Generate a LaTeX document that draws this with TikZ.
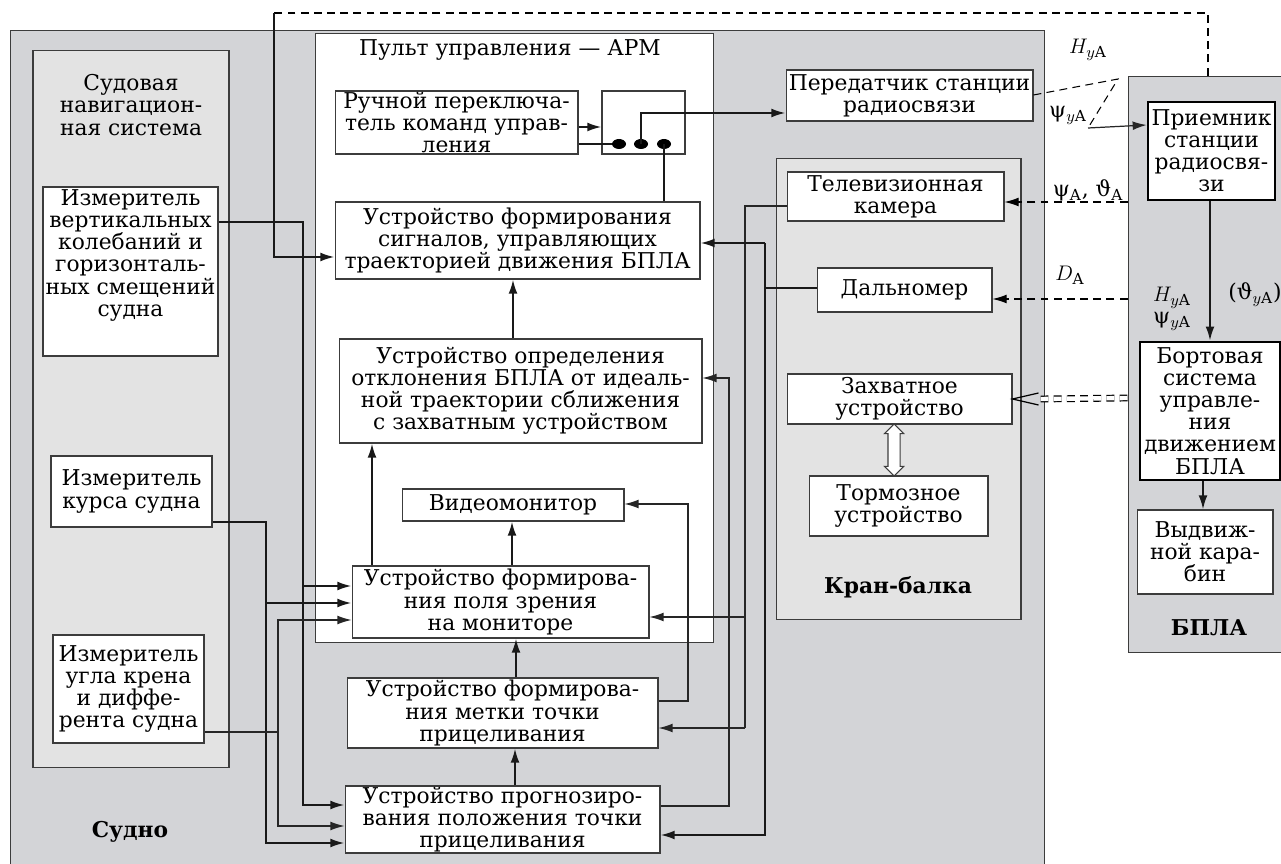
\documentclass[tikz,border=0pt]{standalone}
\usepackage{fontspec}
\setmainfont{DejaVu Serif}
\usetikzlibrary{arrows.meta,shapes.geometric,shapes.arrows}

\definecolor{shipgray}{RGB}{211,212,215}
\definecolor{panelgray}{RGB}{227,227,227}
\definecolor{edgegray}{RGB}{60,60,60}
\newcommand\bxfont{\fontsize{12.4}{12.6}\selectfont}

\tikzset{
  blk/.style={draw=edgegray, line width=0.6pt, fill=white, align=center, inner sep=0pt, font=\bxfont},
  thickblk/.style={blk, draw=black, line width=1.5pt},
  area/.style={draw=edgegray, line width=0.6pt, inner sep=0pt},
  lbl/.style={align=center, inner sep=0pt, font=\bxfont},
  ln/.style={line width=1.1pt, draw=black!90},
  lnt/.style={line width=0.7pt, draw=black!85},
  arr/.style={ln, -{Latex[length=8pt,width=5pt]}},
  arrt/.style={lnt, -{Latex[length=8pt,width=5pt]}},
  dashln/.style={line width=0.6pt, dash pattern=on 4.5pt off 3pt},
  dot/.style={ellipse, fill=black, inner sep=0pt, minimum width=0.28cm, minimum height=0.2cm}
}

\begin{document}
\begin{tikzpicture}[x=0.02cm, y=-0.02cm]
\useasboundingbox (0,0) rectangle (1281,864);

% areas
\node[area, fill=shipgray, minimum width=20.7cm, minimum height=16.8cm] (sudno) at (527.5,450) {};
\node[area, fill=panelgray, minimum width=3.92cm, minimum height=14.36cm] (nav) at (131,409) {};
\node[area, fill=white, minimum width=7.98cm, minimum height=12.2cm] (arm) at (514.5,338) {};
\node[area, fill=panelgray, minimum width=4.9cm, minimum height=9.24cm] (kran) at (898.5,389) {};
\node[area, fill=shipgray, minimum width=3.24cm, minimum height=11.54cm] (bpla) at (1209,364.5) {};

% titles
\node[lbl] (navtitle) at (131,105) {Судовая\\навигацион-\\ная система};
\node[lbl] (armtitle) at (510,50) {Пульт управления — АРМ};
\node[lbl, font=\bxfont\bfseries] (sudnotitle) at (130,832) {Судно};
\node[lbl, font=\bxfont\bfseries] (krantitle) at (898,587) {Кран-балка};
\node[lbl, font=\bxfont\bfseries] (bplatitle) at (1209,628) {БПЛА};

% ship sensors
\node[blk, minimum width=3.5cm, minimum height=3.38cm] (vert) at (130.5,271.5) {Измеритель\\вертикальных\\колебаний и\\горизонталь-\\ных смещений\\судна\\[0.3cm]};
\node[blk, minimum width=3.22cm, minimum height=1.42cm] (kurs) at (131.5,491.5) {Измеритель\\курса судна};
\node[blk, minimum width=3.02cm, minimum height=2.16cm] (kren) at (128.5,689) {Измеритель\\угла крена\\и диффе-\\рента судна};

% control desk
\node[blk, minimum width=4.86cm, minimum height=1.26cm] (ruchn) at (456.5,122.5) {Ручной переключа-\\тель команд управ-\\ления};
\node[blk, minimum width=1.66cm, minimum height=1.26cm] (sw) at (643.5,122.5) {};
\node[dot] (d1) at (619,144) {};
\node[dot] (d2) at (641,144) {};
\node[dot] (d3) at (664,144) {};
\node[blk, minimum width=7.3cm, minimum height=1.54cm] (signal) at (517.5,240.5) {Устройство формирования\\сигналов, управляющих\\траекторией движения БПЛА};
\node[blk, minimum width=7.26cm, minimum height=2.08cm] (otkl) at (520.5,391) {Устройство определения\\отклонения БПЛА от идеаль-\\ной траектории сближения\\с захватным устройством};
\node[blk, minimum width=4.44cm, minimum height=0.64cm] (video) at (513,505) {Видеомонитор};
\node[blk, minimum width=5.94cm, minimum height=1.44cm] (pole) at (500.5,602) {Устройство формирова-\\ния поля зрения\\на мониторе};
\node[blk, minimum width=6.22cm, minimum height=1.4cm] (metka) at (502.5,713) {Устройство формирова-\\ния метки точки\\прицеливания};
\node[blk, minimum width=6.3cm, minimum height=1.34cm] (prog) at (502.5,819.5) {Устройство прогнозиро-\\вания положения точки\\прицеливания};

% crane beam
\node[blk, minimum width=4.94cm, minimum height=1.02cm] (pered) at (909.5,95.5) {Передатчик станции\\радиосвязи};
\node[blk, minimum width=4.34cm, minimum height=0.98cm] (tv) at (895.5,196.5) {Телевизионная\\камера};
\node[blk, minimum width=3.5cm, minimum height=0.88cm] (dal) at (904.5,290) {Дальномер};
\node[blk, minimum width=4.5cm, minimum height=1cm] (zahv) at (899.5,399) {Захватное\\устройство};
\node[blk, minimum width=3.58cm, minimum height=1.2cm] (torm) at (898.5,506) {Тормозное\\устройство};
\node[double arrow, draw=edgegray, line width=0.6pt, fill=white, rotate=90, inner xsep=0pt, inner ysep=0.11cm,
  minimum height=1.04cm, double arrow head extend=0.07cm] (hold) at (894,450) {};

% UAV
\node[thickblk, minimum width=2.54cm, minimum height=1.96cm] (priem) at (1211.5,151) {Приемник\\станции\\радиосвя-\\зи};
\node[thickblk, minimum width=2.8cm, minimum height=2.76cm] (bort) at (1210,411) {Бортовая\\система\\управле-\\ния\\движением\\БПЛА};
\node[blk, minimum width=2.72cm, minimum height=1.68cm] (karab) at (1205,552) {Выдвиж-\\ной кара-\\бин};

% bus points
\coordinate (fbR) at (1208,13);
\coordinate (fbL) at (274,13);
\coordinate (busV) at (303,222);
\coordinate (busK) at (266,522);
\coordinate (busR) at (278,732);
\coordinate (busO) at (729,806);
\coordinate (busT) at (745,206);
\coordinate (busD) at (765,288);
\coordinate (busM) at (688,701);
\coordinate (rA) at (1118,79);
\coordinate (rB) at (1088,128);

% feedback from the UAV
\draw[dashln] (bpla.north -| fbR) -- (fbR) -- (fbL);
\draw[arr] (fbL) |- (signal.west |- 0,257);

% ship sensors to the desk
\draw[arr] (vert.east |- busV) -- (busV) |- (prog.west |- 0,805);
\draw[arr] (busV |- 0,586) -- (pole.west |- 0,586);
\draw[arr] (kurs.east |- busK) -- (busK) |- (prog.west |- 0,843);
\draw[arr] (busK |- 0,603) -- (pole.west |- 0,603);
\draw[lnt] (kren.east |- busR) -- (busR);
\draw[arrt] (busR) |- (pole.west |- 0,620);
\draw[arrt] (busR) |- (prog.west |- 0,826);

% switch
\draw[arr] (ruchn.east |- 0,127) -- (sw.west |- 0,127);
\draw[ln] (ruchn.east |- d1) -- (d1);
\draw[arr] (d2.center) |- (pered.west |- 0,113);
\draw[ln] (d3.center) -- (d3 |- signal.north);

% inside the desk
\draw[arr] (otkl.north -| 513,0) -- (signal.south -| 513,0);
\draw[arr] (pole.north -| 372,0) -- (otkl.south -| 372,0);
\draw[arr] (pole.north -| 512,0) -- (video.south -| 512,0);
\draw[arr] (metka.north -| 516,0) -- (pole.south -| 516,0);
\draw[arr] (prog.north -| 515,0) -- (metka.south -| 515,0);

% right-hand buses
\draw[arrt] (prog.east |- busO) -- (busO) |- (otkl.east |- 0,378);
\draw[lnt] (tv.west |- busT) -- (busT) -- (busT |- 0,728);
\draw[arrt] (busT |- 0,617) -- (pole.east |- 0,617);
\draw[arrt] (busT |- 0,728) -- (metka.east |- 0,728);
\draw[ln] (dal.west |- busD) -- (busD);
\draw[arr] (busD |- 0,243) -- (busD |- 0,835) -- (prog.east |- 0,835);
\draw[arr] (busD |- 0,243) -- (signal.east |- 0,243);
\draw[arrt] (metka.east |- busM) -- (busM) |- (video.east |- 0,504);

% radio link
\draw[dashln] (pered.east |- 0,95) -- (rA) -- (rB);
\draw[arrt] (rB) -- (priem.west |- 0,125);
\draw[dashln, -{Latex[length=8pt,width=5pt]}] (bpla.west |- 0,202) -- (tv.east |- 0,202);
\draw[dashln, -{Latex[length=8pt,width=5pt]}] (bpla.west |- 0,299) -- (dal.east |- 0,299);
\draw[dashln, draw=black, line width=0.7pt, double distance=2.5pt] (bpla.west |- 0,398) -- ([xshift=0.55cm]zahv.east);
\draw[line width=0.7pt] (zahv.east) ++(26,-6) -- (zahv.east) -- ++(26,6);

% UAV inside
\draw[arr] (priem.south -| 1210,0) -- (bort.north -| 1210,0);
\draw[arr] (bort.south -| 1203,0) -- (karab.north -| 1203,0);

% signal labels
\node[lbl] (lhya) at (1088,50) {$H_{y\mathrm{A}}$};
\node[lbl] (lpsiya) at (1068,115) {ψ$_{y\mathrm{A}}$};
\node[lbl] (lpsia) at (1088,190) {ψ$_{\mathrm{A}}$, ϑ$_{\mathrm{A}}$};
\node[lbl] (lda) at (1070,275) {$D_{\mathrm{A}}$};
\node[lbl] (lhpsi) at (1172,309) {$H_{y\mathrm{A}}$\\ψ$_{y\mathrm{A}}$};
\node[lbl] (ltheta) at (1255,295) {(ϑ$_{y\mathrm{A}}$)};
\end{tikzpicture}
\end{document}
